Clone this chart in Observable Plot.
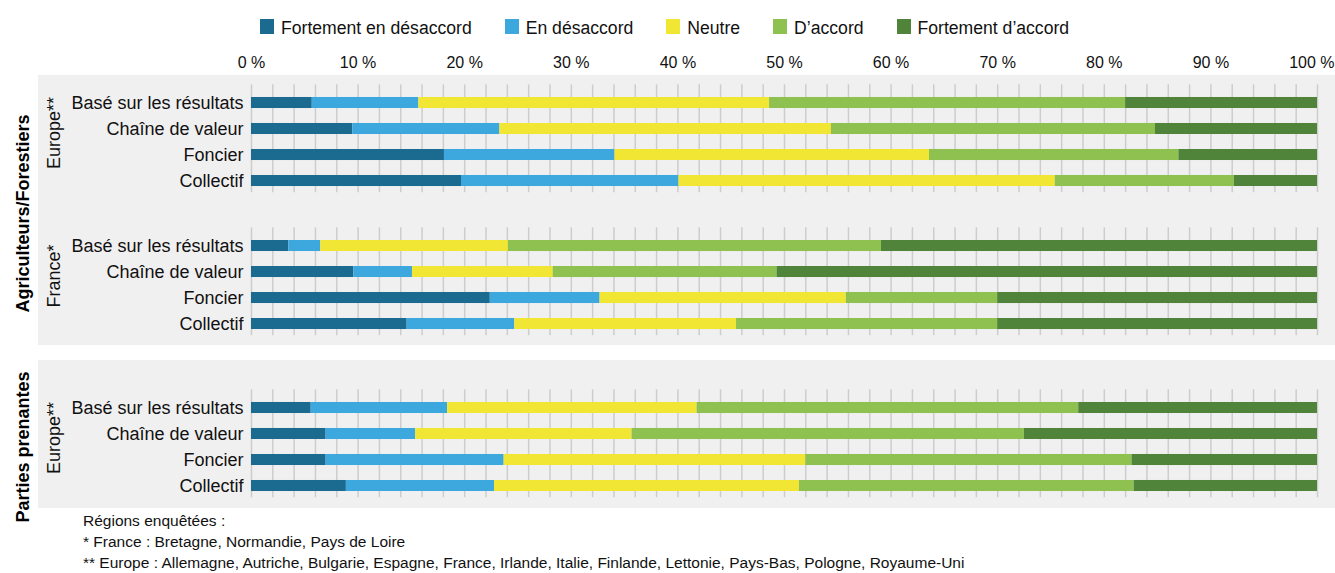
<!DOCTYPE html>
<html lang="fr">
<head>
<meta charset="utf-8">
<script src="https://cdn.jsdelivr.net/npm/d3@7"></script>
<script src="https://cdn.jsdelivr.net/npm/@observablehq/plot@0.6"></script>
<style>
html,body{margin:0;padding:0;background:#fff;}
#wrap{position:relative;width:1335px;height:573px;overflow:hidden;font-family:"Liberation Sans",Arial,sans-serif;color:#111;}
.panel{position:absolute;left:38px;right:0;background:#f0f0f0;}
#legend{position:absolute;left:260px;top:18px;display:flex;align-items:center;font-size:17.6px;white-space:nowrap;}
#legend .item{display:flex;align-items:center;margin-right:33px;}
#legend .sw{width:14px;height:15px;margin-right:7px;position:relative;top:-2px;}
#chart{position:absolute;left:0;top:40px;}
#notes{position:absolute;left:83px;top:510px;font-size:15.5px;line-height:21px;white-space:nowrap;}
</style>
</head>
<body>
<div id="wrap"><div id="legend"></div><div id="chart"></div><div id="notes"></div></div>
<script>
// ---- data ----
const answers = ["Fortement en désaccord", "En désaccord", "Neutre", "D’accord", "Fortement d’accord"];
const answerColors = ["#1b6a8f", "#3da8de", "#f1e633", "#8fc150", "#50843a"];
const methods = ["Basé sur les résultats", "Chaîne de valeur", "Foncier", "Collectif"];
const actors = ["Agriculteurs/Forestiers", "Parties prenantes"];
const regions = ["Europe**", "France*", "Europe**"];
// percentages per method, in the order of answers
const agriEurope = [
  [5.7, 10.0, 32.9, 33.4, 18.0],
  [9.5, 13.8, 31.1, 30.4, 15.2],
  [18.1, 16.0, 29.5, 23.4, 13.0],
  [19.7, 20.4, 35.3, 16.8, 7.8]
];
const agriFrance = [
  [3.5, 3.0, 17.6, 35.0, 40.9],
  [9.6, 5.5, 13.2, 21.0, 50.7],
  [22.4, 10.3, 23.1, 14.2, 30.0],
  [14.6, 10.1, 20.8, 24.5, 30.0]
];
const partiesEurope = [
  [5.6, 12.8, 23.4, 35.8, 22.4],
  [7.0, 8.4, 20.3, 36.8, 27.5],
  [7.0, 16.7, 28.3, 30.6, 17.4],
  [8.9, 13.9, 28.6, 31.4, 17.2]
];
const tickValues = [0, 10, 20, 30, 40, 50, 60, 70, 80, 90, 100];
const notes = [
  "Régions enquêtées :",
  "* France : Bretagne, Normandie, Pays de Loire",
  "** Europe : Allemagne, Autriche, Bulgarie, Espagne, France, Irlande, Italie, Finlande, Lettonie, Pays-Bas, Pologne, Royaume-Uni"
];

// ---- layout (row units) ----
const groupStart = [0, 5.5, 11.73];
const groupActor = [0, 0, 1];
const groupValues = [agriEurope, agriFrance, partiesEurope];
const gridStep = 2;

// ---- build table ----
const segments = [];
groupValues.forEach((rows, gi) => rows.forEach((vals, mi) => {
  let acc = 0;
  vals.forEach((v, ai) => {
    segments.push({group: gi, method: methods[mi], answer: answers[ai], pos: groupStart[gi] + mi, x1: acc, x2: acc + v});
    acc += v;
  });
}));
const rowLabels = segments.filter(d => d.answer === answers[0]);
const regionLabels = regions.map((r, i) => ({text: r, pos: groupStart[i] + 1.5}));
const actorLabels = actors.map((a, ai) => {
  const gs = groupStart.filter((s, i) => groupActor[i] === ai);
  return {text: a, pos: (d3.min(gs) + d3.max(gs) + 3) / 2};
});
const gridValues = d3.range(0, 100 + 1e-9, gridStep);

// ---- legend ----
const legend = document.getElementById("legend");
answers.forEach((a, i) => {
  const it = document.createElement("div"); it.className = "item";
  const sw = document.createElement("div"); sw.className = "sw"; sw.style.background = answerColors[i];
  const tx = document.createElement("span"); tx.textContent = a;
  it.append(sw, tx); legend.append(it);
});

// ---- chart ----
const font = "Liberation Sans, Arial, sans-serif";
const plot = Plot.plot({
  width: 1335,
  height: 480,
  marginLeft: 251,
  marginRight: 18,
  marginTop: 32,
  marginBottom: 20,
  style: {background: "none", fontFamily: font, fontSize: "18px", color: "#111", overflow: "visible"},
  x: {domain: [0, 100], axis: null},
  y: {domain: [0, groupStart[2] + 3], range: [62.5, 445.5], axis: null},
  color: {domain: answers, range: answerColors},
  marks: [
    ...groupStart.map(s => Plot.ruleX(gridValues, {x: d => d, y1: s - 0.7, y2: s + 3.45, stroke: "#cdcdcd", strokeWidth: 1.5})),
    Plot.rect(segments, {x1: "x1", x2: "x2", y1: d => d.pos - 0.212, y2: d => d.pos + 0.212, fill: "answer"}),
    Plot.text(rowLabels, {frameAnchor: "left", y: "pos", text: "method", textAnchor: "end", dx: -8, fontSize: 18, fill: "#111"}),
    Plot.text(regionLabels, {frameAnchor: "left", y: "pos", text: "text", rotate: -90, textAnchor: "middle", dx: -197, dy: -9, fontSize: 18, fill: "#111"}),
    Plot.text(actorLabels, {frameAnchor: "left", y: "pos", text: "text", rotate: -90, textAnchor: "middle", dx: -228, fontSize: 18, fontWeight: "bold", fill: "#000"}),
    Plot.text(tickValues.filter(v => v < 100), {x: d => d, frameAnchor: "top", text: d => `${d} %`, lineAnchor: "bottom", dy: -5, fontSize: 16, fill: "#111"}),
    Plot.text(tickValues.filter(v => v === 100), {x: d => d, frameAnchor: "top", text: d => `${d} %`, lineAnchor: "bottom", textAnchor: "end", dx: 17, dy: -5, fontSize: 16, fill: "#111"})
  ]
});
document.getElementById("chart").append(plot);

// ---- panels (background), positioned with the plot's y scale ----
const ys = plot.scale("y");
const yMap = d3.scaleLinear(ys.domain, ys.range);
const chartTop = 40;
const panelPad = [[-1.06, 0.83], [-1.83, 0.87]];
const wrap = document.getElementById("wrap");
actors.forEach((a, ai) => {
  const gs = groupStart.filter((s, i) => groupActor[i] === ai);
  const top = yMap(d3.min(gs) + panelPad[ai][0]) + chartTop;
  const bottom = yMap(d3.max(gs) + 3 + panelPad[ai][1]) + chartTop;
  const p = document.createElement("div"); p.className = "panel";
  p.style.top = top + "px"; p.style.height = (bottom - top) + "px";
  wrap.insertBefore(p, wrap.firstChild);
});

// ---- notes ----
const nd = document.getElementById("notes");
notes.forEach(n => { const d = document.createElement("div"); d.textContent = n; nd.append(d); });
</script>
</body>
</html>
